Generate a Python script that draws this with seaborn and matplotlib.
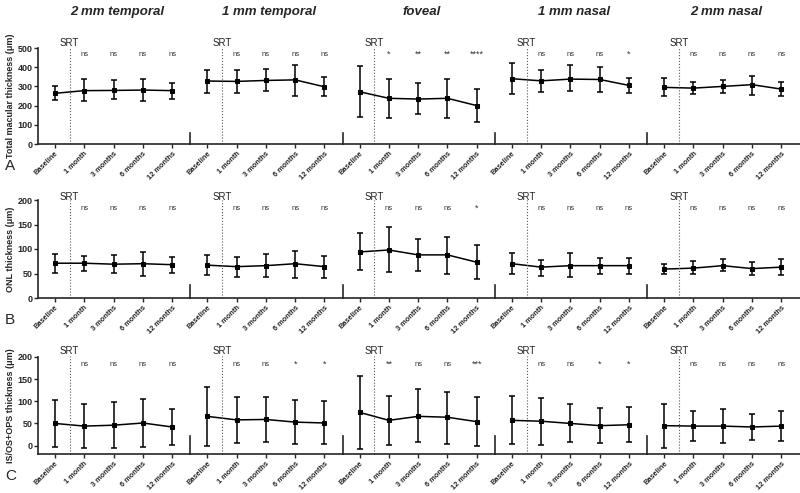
import numpy as np
import pandas as pd
import matplotlib
matplotlib.use("Agg")
import matplotlib.pyplot as plt
import seaborn as sns

# Time points and macular regions
timepoints = ["Baseline", "1 month", "3 months", "6 months", "12 months"]
regions = ["2 mm temporal", "1 mm temporal", "foveal", "1 mm nasal", "2 mm nasal"]

# A: total macular thickness (um) - mean, lower and upper error bar ends
tmt_mean = [[264, 278, 279, 281, 278], [328, 326, 331, 334, 298], [272, 238, 234, 238, 200],
            [340, 329, 338, 336, 305], [295, 291, 300, 309, 286]]
tmt_low = [[229, 224, 233, 222, 236], [267, 267, 274, 252, 248], [141, 136, 155, 134, 117],
           [260, 272, 274, 272, 264], [248, 262, 266, 257, 250]]
tmt_high = [[300, 340, 333, 336, 319], [384, 383, 391, 409, 348], [405, 340, 316, 336, 284],
            [422, 388, 409, 402, 345], [343, 322, 333, 355, 324]]
tmt_sig = [["ns", "ns", "ns", "ns"], ["ns", "ns", "ns", "ns"], ["*", "**", "**", "****"],
           ["ns", "ns", "ns", "*"], ["ns", "ns", "ns", "ns"]]

# B: ONL thickness (um)
onl_mean = [[71, 71, 69, 70, 68], [67, 64, 66, 70, 64], [94, 98, 88, 88, 73],
            [70, 63, 66, 66, 66], [59, 61, 66, 60, 63]]
onl_low = [[51, 56, 51, 45, 52], [47, 43, 43, 41, 41], [57, 53, 56, 49, 39],
           [50, 45, 42, 50, 50], [49, 49, 55, 47, 47]]
onl_high = [[90, 86, 88, 94, 83], [87, 83, 89, 96, 85], [132, 144, 120, 125, 108],
            [92, 78, 92, 82, 82], [69, 75, 79, 73, 79]]
onl_sig = [["ns", "ns", "ns", "ns"], ["ns", "ns", "ns", "ns"], ["ns", "ns", "ns", "*"],
           ["ns", "ns", "ns", "ns"], ["ns", "ns", "ns", "ns"]]

# C: IS/OS+OPS thickness (um)
isos_mean = [[50, 44, 46, 51, 42], [66, 58, 59, 53, 51], [75, 57, 66, 64, 54],
             [57, 55, 50, 45, 47], [45, 44, 44, 42, 44]]
isos_low = [[-3, -6, -5, -3, 1], [0, 5, 8, 3, 3], [-7, 2, 8, 3, 0],
            [3, 2, 9, 5, 8], [-5, 10, 5, 12, 10]]
isos_high = [[104, 95, 99, 106, 83], [132, 110, 110, 103, 100], [156, 113, 128, 121, 110],
             [112, 108, 94, 84, 86], [93, 78, 83, 72, 77]]
isos_sig = [["ns", "ns", "ns", "ns"], ["ns", "ns", "*", "*"], ["**", "ns", "ns", "***"],
            ["ns", "ns", "*", "*"], ["ns", "ns", "ns", "ns"]]

rows = [
    dict(letter="A", ylabel="Total macular thickness (\u03bcm)", mean=tmt_mean, low=tmt_low,
         high=tmt_high, sig=tmt_sig, ylim=(0, 500), yticks=range(0, 501, 100),
         stub=57, sig_y=465, srt_y=526, line_top=505, px=(48, 144)),
    dict(letter="B", ylabel="ONL thickness (\u03bcm)", mean=onl_mean, low=onl_low,
         high=onl_high, sig=onl_sig, ylim=(0, 200), yticks=range(0, 201, 50),
         stub=27, sig_y=183, srt_y=207, line_top=201, px=(200, 298)),
    dict(letter="C", ylabel="IS/OS+OPS thickness (\u03bcm)", mean=isos_mean, low=isos_low,
         high=isos_high, sig=isos_sig, ylim=(-19, 200), yticks=range(0, 201, 50),
         stub=40, sig_y=183, srt_y=213, line_top=203, px=(357, 454)),
]

sns.set_style("ticks")
plt.rcParams["font.family"] = ["Liberation Sans", "DejaVu Sans"]

W, H = 800, 493
fig = plt.figure(figsize=(W / 100, H / 100), dpi=100)
panel_w = 152.3
x0 = 38
x = np.arange(len(timepoints))

for r, row in enumerate(rows):
    top, bottom = row["px"]
    for c, region in enumerate(regions):
        ax = fig.add_axes([(x0 + panel_w * c) / W, 1 - bottom / H, panel_w / W, (bottom - top) / H])
        mean = np.array(row["mean"][c])
        lo = np.array(row["low"][c])
        hi = np.array(row["high"][c])
        df = pd.DataFrame({"time": x, "value": mean})
        sns.lineplot(data=df, x="time", y="value", ax=ax, color="black", lw=1.1,
                     marker="s", markersize=3.5, markeredgecolor="black", errorbar=None)
        ax.errorbar(x, mean, yerr=[mean - lo, hi - mean], fmt="none", ecolor="black",
                    elinewidth=1.1, capsize=2.5, capthick=1.1)

        ax.set_xlim(-0.58, 4.62)
        ax.set_ylim(*row["ylim"])
        ax.set_xticks(x)
        ax.set_xticklabels(timepoints, rotation=45, ha="right", rotation_mode="anchor",
                           fontsize=5.3, fontweight="bold")
        ax.set_xlabel("")
        ax.tick_params(axis="x", length=3, width=1, pad=1.5)
        for s in ["top", "right"]:
            ax.spines[s].set_visible(False)
        ax.spines["bottom"].set_linewidth(1.2)
        ax.spines["left"].set_linewidth(1.2)

        if c == 0:
            ax.set_yticks(list(row["yticks"]))
            ax.set_yticklabels([str(v) for v in row["yticks"]], fontsize=6.5, fontweight="bold")
            ax.tick_params(axis="y", length=3, width=1, pad=1)
            ax.set_ylabel(row["ylabel"], fontsize=6.5, fontweight="bold", labelpad=2)
        else:
            ax.set_yticks([])
            ax.set_ylabel("")
            ax.spines["left"].set_bounds(row["ylim"][0], row["ylim"][0] + row["stub"])

        # SRT marker between baseline and 1 month
        ax.plot([0.5, 0.5], [row["ylim"][0], row["line_top"]], ls=":", color="#555555",
                lw=0.8, clip_on=False)
        ax.text(0.5, row["srt_y"], "SRT", ha="center", va="center", fontsize=7, color="#222222")

        for i, label in enumerate(row["sig"][c]):
            ax.text(i + 1, row["sig_y"], label, ha="center", va="center",
                    fontsize=5.5 if label == "ns" else 6.5, color="#333333")

        if r == 0:
            fig.text((x0 + panel_w * c + panel_w / 2 + 3) / W, 1 - 12 / H, region,
                     ha="center", va="center", fontsize=9.5, fontweight="bold", style="italic")

    fig.text(5 / W, 1 - (bottom + 22) / H, row["letter"], ha="left", va="center", fontsize=11)

fig.savefig("out.png", dpi=100)
